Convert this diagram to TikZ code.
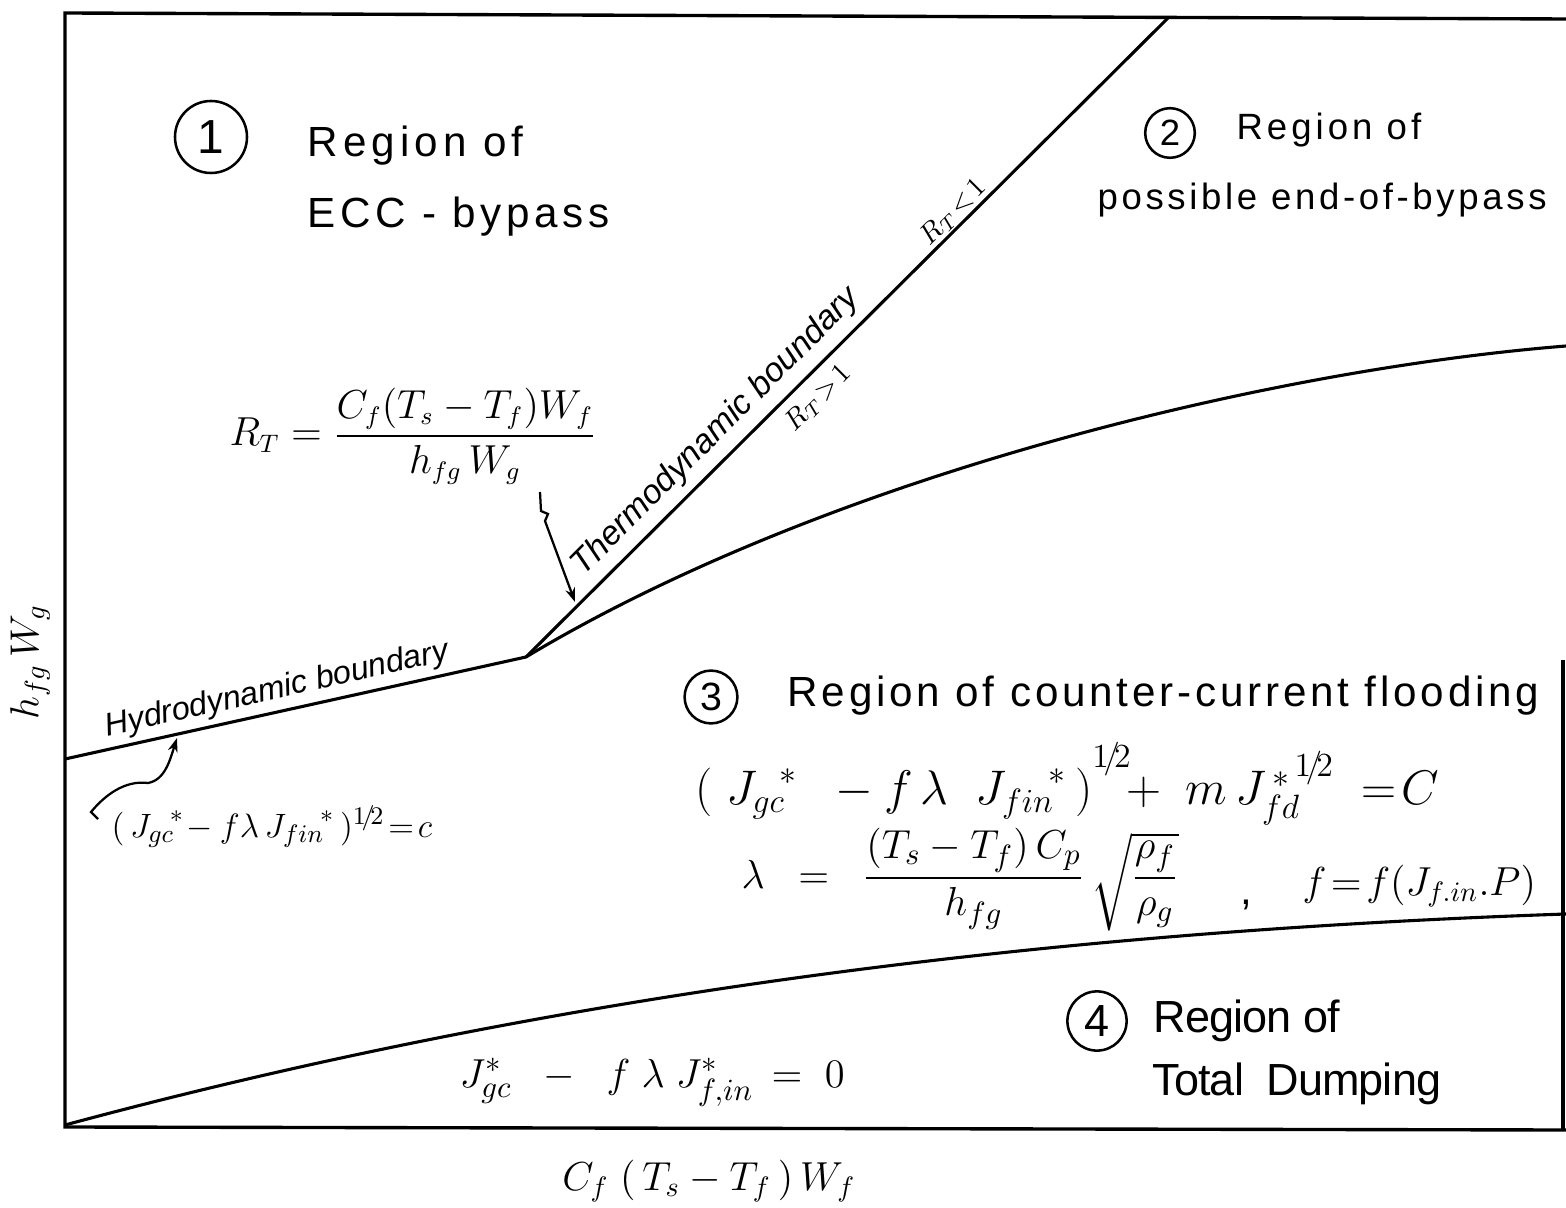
\documentclass[tikz,border=0pt]{standalone}
\usepackage{amsmath}
\usepackage{fontspec}
\setmainfont{Liberation Sans}
\usetikzlibrary{arrows.meta}
\tikzset{trait/.style={line width=1.1pt}, cadre/.style={line width=1.2pt}, fleche/.style={line width=0.8pt,-{Stealth[length=5pt,width=3.5pt]}}}
\newcommand{\hw}[2]{\fontsize{#1}{#1}\selectfont\addfontfeature{LetterSpace=#2}}
\newcommand{\rnum}[3]{\node[draw,circle,line width=0.9pt,inner sep=0pt,minimum size=#3] (#1) at (#2)}
\newcommand{\txt}[2]{\node[anchor=base west,inner sep=0pt] (#1) at (#2)}
\newcommand{\demi}[1]{\raisebox{#1}{$\scriptstyle 1\!/\!2$}}

\begin{document}
\begin{tikzpicture}[x=0.0125cm,y=-0.0125cm]
	\useasboundingbox (0,0) rectangle (1566,1208);
	\coordinate (tl) at (65,13);
	\coordinate (tr) at (1566,19);
	\coordinate (bl) at (65,1127);
	\coordinate (bx) at (1566,1130);
	\coordinate (rtop) at (1563,660);
	\coordinate (rbot) at (1563,1130);
	\draw[cadre] (tr) -- (tl) -- (bl) -- (bx);
	\draw[cadre] (rtop) -- (rbot);
	\coordinate (hyl) at (65,759);
	\coordinate (jn) at (526,657);
	\coordinate (thtop) at (1168,18);
	\coordinate (upr) at (1566,346);
	\coordinate (lowl) at (65,1125);
	\coordinate (lowr) at (1566,914);
	\draw[trait] (hyl) -- (jn) -- (thtop);
	\draw[trait] (jn) .. controls (826,477) and (1266,370) .. (upr);
	\draw[trait] (lowl) .. controls (565,990) and (1066,931) .. (lowr);
	\rnum{n1}{211,137}{0.9cm} {\fontsize{17}{17}\selectfont 1};
	\txt{r1a}{307,157} {\hw{15}{12}Region of};
	\txt{r1b}{307,228} {\hw{15}{11}ECC - bypass};
	\rnum{n2}{1170,133}{0.62cm} {\fontsize{13}{13}\selectfont 2};
	\txt{r2a}{1236,140} {\hw{13}{11}Region of};
	\txt{r2b}{1097,210} {\hw{13}{10}possible end-of-bypass};
	\rnum{n3}{711,697}{0.66cm} {\fontsize{14}{14}\selectfont 3};
	\txt{r3a}{787,707} {\hw{15}{9}Region of counter-current flooding};
	\rnum{n4}{1097,1021}{0.74cm} {\fontsize{16}{16}\selectfont 4};
	\txt{r4a}{1153,1032} {\hw{16}{-2}Region of};
	\txt{r4b}{1152,1095} {\hw{16}{-2}Total\enspace Dumping};
	\txt{rt}{229,446} {\fontsize{13.5}{13.5}\selectfont $R_T = \dfrac{C_f(T_s - T_f)W_f}{h_{fg}\,W_g}$};
	\txt{ccfl}{695,805} {\fontsize{17}{17}\selectfont $(\;{J_{gc}}^{\!*}\;\;-f\,\lambda\;\;{J_{fin}}^{\!*}\,)^{\demi{7pt}}\mkern-6mu+\;m\,J_{fd}^{\,*\,\demi{4pt}}\;=\!C$};
	\txt{lam}{741,888} {\fontsize{15}{15}\selectfont $\lambda\;\;=\;\;\dfrac{(T_s - T_f)\,C_p}{h_{fg}}\,\sqrt{\dfrac{\rho_f}{\rho_g}}\hspace{22pt}\raisebox{-6pt}{,}$};
	\txt{fdef}{1302,895} {\fontsize{14}{14}\selectfont $f\!=\!f(J_{f.in}.P)$};
	\txt{hyeq}{111,837} {\fontsize{13}{13}\selectfont $(\,{J_{gc}}^{\!*}\!-f\lambda\,{J_{fin}}^{\!*}\,)^{1\!/\!2}\!=\!c$};
	\txt{dump}{459,1087} {\fontsize{15}{15}\selectfont $J_{gc}^{*}\;\;-\;\;f\;\lambda\;J_{f,in}^{*}\,=\;0$};
	\node[anchor=base] (xlab) at (709,1190) {\fontsize{14}{14}\selectfont $C_f\;(\,T_s - T_f\,)\,W_f$};
	\node[rotate=90] (ylab) at (30,662) {\fontsize{14}{14}\selectfont $h_{fg}\,W_g$};
	\node[rotate=12.5,font=\itshape\fontsize{11.5}{11.5}\selectfont] (hyd) at (277,690) {Hydrodynamic boundary};
	\node[rotate=45,font=\itshape\fontsize{12}{12}\selectfont] (thd) at (716,432) {Thermodynamic boundary};
	\node[rotate=45] (rlt) at (953,212) {\fontsize{10}{10}\selectfont $R_T\!<\!1$};
	\node[rotate=45] (rgt) at (818,398) {\fontsize{10}{10}\selectfont $R_T\!>\!1$};
	\coordinate (sq0) at (540,492);
	\coordinate (sq1) at (575,602);
	\draw[fleche] (sq0) -- (541,511) -- (548,514) -- (545,521) -- (sq1);
	\coordinate (hk0) at (98,819);
	\coordinate (hk1) at (177,738);
	\draw[fleche] (hk0) -- (91,812) .. controls (105,795) and (125,780) .. (148,783) .. controls (165,780) and (170,760) .. (hk1);
\end{tikzpicture}
\end{document}
